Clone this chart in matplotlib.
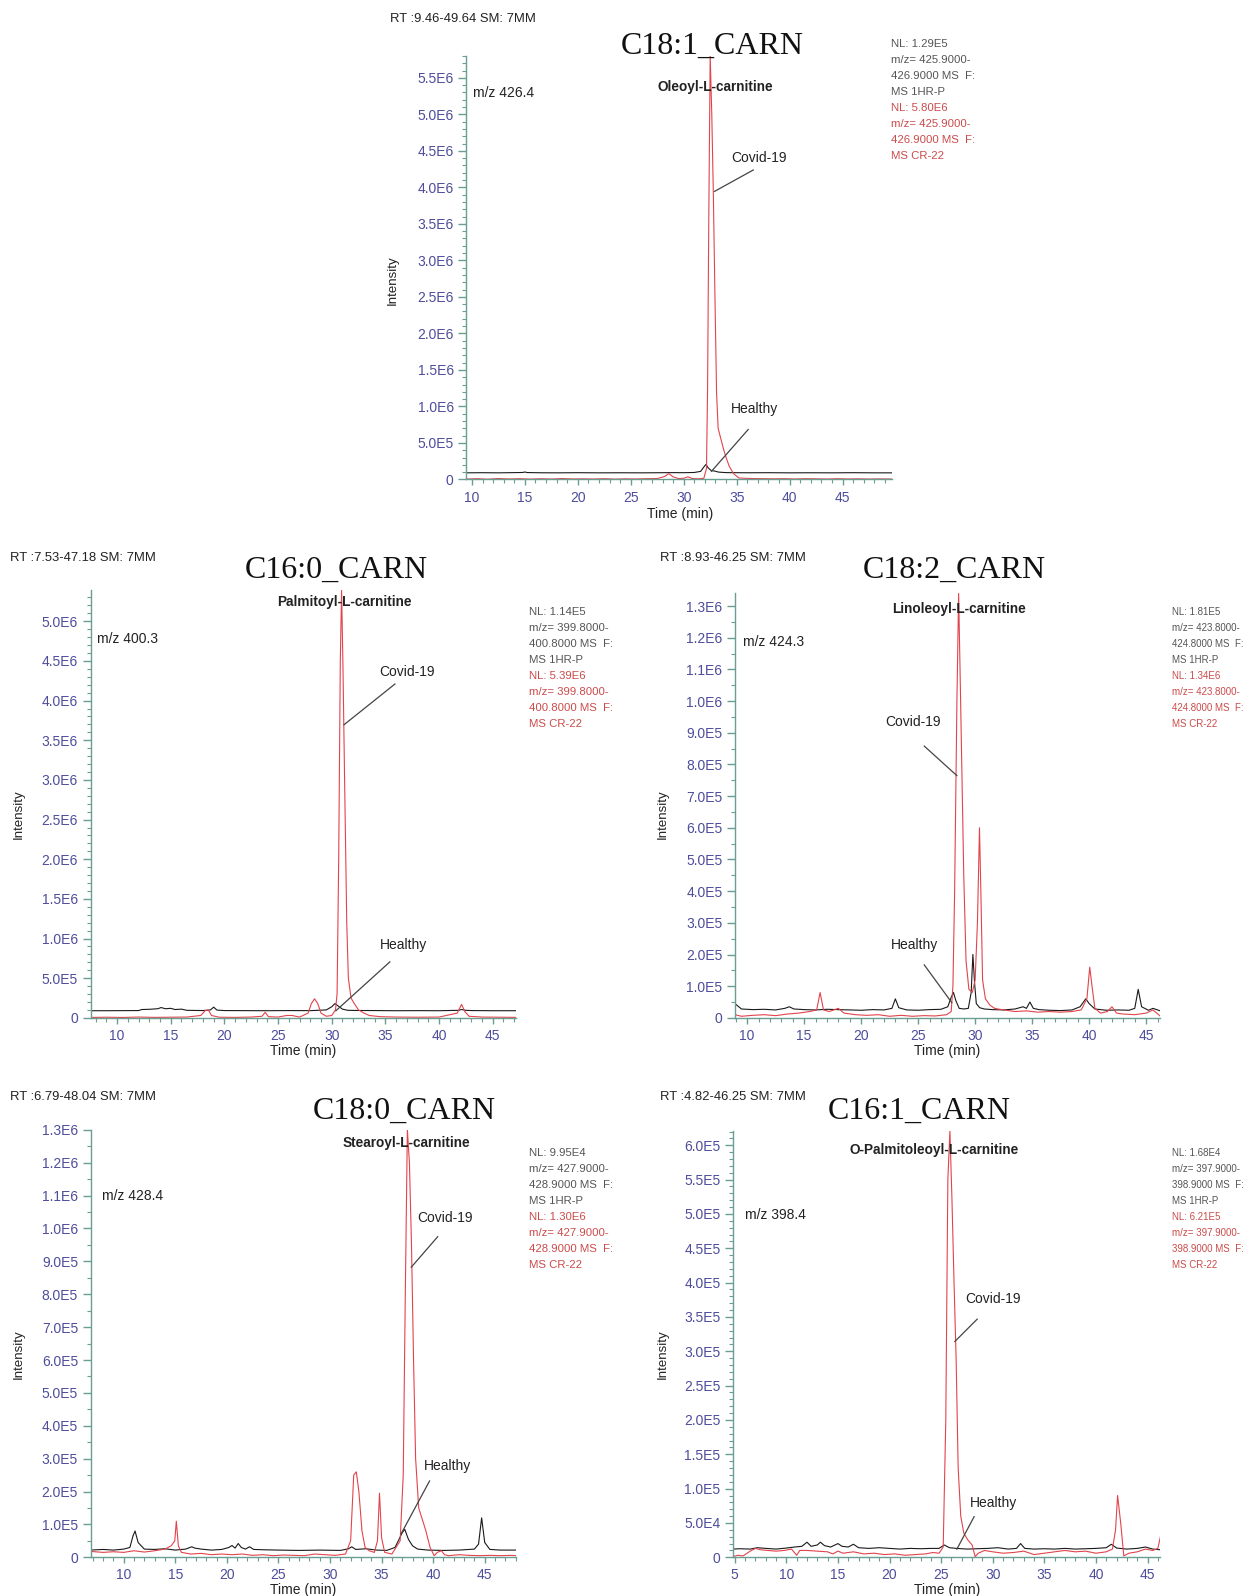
import numpy as np
import matplotlib.pyplot as plt
from matplotlib.lines import Line2D
from matplotlib.ticker import MultipleLocator, FuncFormatter

plt.rcParams['font.family'] = ['Liberation Sans', 'DejaVu Sans']

# ---------------- data (intensity in units of the scale noted) ----------------
# C18:1_CARN  Oleoyl-L-carnitine  (x1e5)
c181_h_t = [9.46, 11, 12.5, 14, 14.8, 15.0, 15.2, 16.5, 18, 20, 22, 24, 26, 28, 29, 30, 31, 31.6,
            31.9, 32.1, 32.3, 32.6, 32.9, 33.3, 34, 36, 38, 40, 42, 44, 46, 48, 49.64]
c181_h_v = [0.9, 0.92, 0.9, 0.93, 0.95, 1.02, 0.94, 0.91, 0.9, 0.92, 0.9, 0.91, 0.9, 0.92, 0.93, 0.92,
            0.95, 1.1, 1.7, 2.05, 1.6, 1.2, 1.15, 1.0, 0.93, 0.91, 0.92, 0.9, 0.91, 0.9, 0.92, 0.9, 0.9]
c181_c_t = [9.46, 10.5, 11.5, 12.5, 13.5, 14.5, 15.5, 16.5, 17.5, 18.5, 19.5, 20.5, 21.5, 22.5, 23.5,
            24.5, 25.5, 26.5, 27.5, 28.2, 28.6, 29.0, 29.5, 30.0, 30.4, 30.8, 31.4, 31.9, 32.15, 32.25,
            32.38, 32.5, 32.65, 32.8, 32.95, 33.1, 33.25, 33.5, 33.75, 34.0, 34.3, 34.7, 35.2, 35.8,
            36.5, 37.5, 38.5, 39.5, 40.5, 41.5, 42.5, 43.5, 44.5, 45.5, 46.5, 47.5, 48.5, 49.64]
c181_c_v = [0.05, 0.1, 0.03, 0.12, 0.06, 0.1, 0.04, 0.09, 0.05, 0.12, 0.06, 0.08, 0.05, 0.1, 0.04,
            0.08, 0.06, 0.1, 0.12, 0.4, 0.8, 0.35, 0.12, 0.15, 0.35, 0.12, 0.08, 0.15, 1.5, 12,
            38, 58.0, 50, 39, 25, 12, 7, 5.6, 4.2, 3.0, 1.8, 0.8, 0.2, 0.15,
            0.12, 0.1, 0.08, 0.1, 0.06, 0.1, 0.08, 0.05, 0.1, 0.06, 0.08, 0.05, 0.07, 0.05]

# C16:0_CARN  Palmitoyl-L-carnitine  (x1e5)
c160_h_t = [7.53, 9, 10.5, 12, 12.3, 13, 13.8, 14.1, 14.5, 15, 15.4, 16, 16.5, 18, 18.7, 19.0, 19.3,
            20, 22, 24, 26, 28, 29.5, 30.0, 30.3, 30.6, 31.0, 31.5, 32.5, 34, 36, 38, 40, 41.8, 42.1,
            42.5, 43, 45, 47.18]
c160_h_v = [0.9, 0.9, 0.91, 0.92, 1.05, 1.08, 1.15, 1.3, 1.15, 1.2, 1.05, 1.1, 0.95, 0.92, 1.0, 1.35,
            0.98, 0.92, 0.91, 0.9, 0.92, 0.91, 1.0, 1.4, 1.8, 1.5, 1.1, 0.95, 0.93, 0.92, 0.9, 0.91,
            0.9, 0.95, 1.05, 0.95, 0.92, 0.9, 0.9]
c160_c_t = [7.53, 9, 10.5, 12, 13.5, 15, 16.5, 17.8, 18.2, 18.5, 18.8, 19.5, 21, 22.5, 23.5, 23.8, 24.1,
            25, 25.8, 26.3, 27, 27.8, 28.1, 28.4, 28.7, 29.0, 29.5, 30.0, 30.35, 30.5, 30.65, 30.8,
            30.92, 31.05, 31.2, 31.4, 31.55, 31.8, 32.1, 32.5, 33.0, 33.5, 34.5, 36, 38, 40, 41.7,
            42.1, 42.4, 42.8, 44, 45.5, 47.18]
c160_c_v = [0.05, 0.08, 0.05, 0.1, 0.06, 0.08, 0.1, 0.3, 0.9, 1.0, 0.3, 0.08, 0.06, 0.1, 0.2, 0.7, 0.15,
            0.1, 0.3, 0.3, 0.1, 0.6, 1.8, 2.4, 1.8, 0.6, 0.2, 0.3, 1.0, 3.0, 20, 45,
            53.9, 44, 30, 12, 5, 2.5, 1.8, 1.0, 0.6, 0.3, 0.15, 0.1, 0.08, 0.1, 0.6,
            1.7, 0.8, 0.2, 0.1, 0.08, 0.06]

# C18:2_CARN  Linoleoyl-L-carnitine  (x1e5)
c182_h_t = [8.93, 9.5, 10.5, 11.5, 12.5, 13.3, 13.7, 14.1, 15, 16, 17, 18, 19, 20, 21, 22, 22.7, 23.0,
            23.3, 24, 25, 26, 27, 27.6, 27.9, 28.1, 28.3, 28.6, 29, 29.4, 29.65, 29.8, 29.95, 30.1,
            30.4, 30.8, 31.5, 32.5, 33.5, 34.2, 34.5, 34.8, 35.1, 35.6, 36.5, 37.5, 38.5, 39.2, 39.7,
            40.0, 40.5, 41.5, 42.5, 43.5, 44.0, 44.3, 44.6, 45.2, 45.6, 46.25]
c182_h_v = [0.45, 0.28, 0.26, 0.27, 0.25, 0.3, 0.35, 0.28, 0.26, 0.25, 0.27, 0.26, 0.25, 0.24, 0.26,
            0.25, 0.3, 0.6, 0.32, 0.25, 0.24, 0.26, 0.27, 0.35, 0.65, 0.8, 0.55, 0.3, 0.28, 0.3, 0.8,
            2.0, 1.1, 0.45, 0.32, 0.28, 0.26, 0.25, 0.28, 0.35, 0.3, 0.5, 0.3, 0.26, 0.24, 0.23, 0.25,
            0.35, 0.6, 0.45, 0.28, 0.24, 0.25, 0.24, 0.3, 0.9, 0.35, 0.24, 0.3, 0.22]
c182_c_t = [8.93, 9.5, 10.5, 11.5, 12.5, 13.5, 14.5, 15.5, 16.1, 16.4, 16.7, 17.2, 18, 18.5, 19.5, 20.5,
            21.5, 22.5, 23.5, 24.5, 25.5, 26.5, 27.5, 27.9, 28.05, 28.2, 28.4, 28.55, 28.7, 28.85,
            29.0, 29.2, 29.45, 29.75, 30.0, 30.2, 30.38, 30.5, 30.65, 30.9, 31.3, 31.7, 32.5, 33.5,
            34.5, 35.5, 36.5, 37.5, 38.5, 39.3, 39.8, 40.05, 40.25, 40.5, 41.0, 41.6, 42.0, 42.4,
            43.0, 44.0, 45.0, 45.6, 46.25]
c182_c_v = [0.1, 0.05, 0.08, 0.1, 0.07, 0.12, 0.15, 0.2, 0.25, 0.8, 0.25, 0.2, 0.3, 0.15, 0.1, 0.08,
            0.1, 0.05, 0.08, 0.05, 0.07, 0.06, 0.1, 0.2, 1.0, 4.0, 10.0, 13.4, 10.5, 7.5,
            4.5, 1.8, 0.9, 0.8, 1.2, 3.0, 6.0, 4.0, 1.2, 0.6, 0.4, 0.3, 0.25, 0.2,
            0.22, 0.18, 0.2, 0.18, 0.2, 0.25, 0.6, 1.6, 1.0, 0.3, 0.15, 0.2, 0.35, 0.15,
            0.12, 0.1, 0.15, 0.25, 0.05]

# C18:0_CARN  Stearoyl-L-carnitine  (x1e5)
c180_h_t = [6.79, 8, 9, 10, 10.6, 10.9, 11.1, 11.4, 12, 13, 14, 15, 16, 16.6, 16.9, 17.5, 18.5, 19.5,
            20.2, 20.5, 20.8, 21.1, 21.4, 21.8, 22.2, 22.6, 23.5, 25, 27, 29, 31, 31.8, 32.1, 32.5,
            33.5, 34, 34.5, 35.5, 36.3, 36.7, 37.0, 37.25, 37.6, 38.0, 38.5, 39.5, 41, 42.5, 44.0,
            44.4, 44.7, 45.0, 45.5, 46.5, 48.04]
c180_h_v = [0.22, 0.24, 0.22, 0.25, 0.3, 0.65, 0.8, 0.45, 0.25, 0.24, 0.26, 0.22, 0.25, 0.32, 0.28,
            0.25, 0.22, 0.24, 0.3, 0.36, 0.28, 0.42, 0.3, 0.25, 0.32, 0.24, 0.23, 0.22, 0.21, 0.22,
            0.21, 0.26, 0.32, 0.24, 0.26, 0.24, 0.22, 0.21, 0.3, 0.55, 0.75, 0.85, 0.55, 0.35, 0.25,
            0.22, 0.21, 0.22, 0.25, 0.4, 1.2, 0.45, 0.24, 0.22, 0.22]
c180_c_t = [6.79, 8, 9, 10, 11, 12, 13, 14, 14.6, 14.95, 15.1, 15.3, 15.6, 16.5, 17.5, 18.5, 19.5,
            20.5, 21.5, 22.5, 23.5, 24.5, 25.5, 26.5, 27.5, 28.5, 29.5, 30.5, 31.5, 32.0, 32.3,
            32.55, 32.8, 33.1, 33.4, 33.8, 34.3, 34.6, 34.8, 35.0, 35.3, 36.0, 36.8, 37.1, 37.3,
            37.5, 37.7, 37.9, 38.1, 38.3, 38.6, 38.9, 39.3, 39.7, 40.1, 40.4, 40.8, 41.1, 41.5,
            42.5, 43.5, 44.5, 45.5, 46.5, 47.5, 48.04]
c180_c_v = [0.18, 0.15, 0.17, 0.15, 0.2, 0.16, 0.2, 0.25, 0.35, 0.5, 1.1, 0.35, 0.15, 0.1, 0.12, 0.08,
            0.1, 0.08, 0.1, 0.06, 0.08, 0.05, 0.07, 0.06, 0.05, 0.1, 0.08, 0.06, 0.1, 0.5, 2.5,
            2.6, 2.0, 0.8, 0.3, 0.2, 0.15, 0.5, 1.95, 0.6, 0.15, 0.1, 0.5, 2.5, 8,
            13.0, 12, 9.5, 6.0, 3.0, 1.5, 1.2, 0.8, 0.3, 0.05, 0.15, 0.2, 0.08, 0.05,
            0.08, 0.06, 0.05, 0.06, 0.05, 0.06, 0.05]

# C16:1_CARN  O-Palmitoleoyl-L-carnitine  (x1e4)
c161_h_t = [4.82, 5.5, 6.5, 7.2, 8, 9, 10, 10.8, 11.5, 12.0, 12.4, 13, 13.3, 13.7, 14.3, 15.0, 15.4,
            16, 16.5, 17, 18, 19, 20, 21, 22, 23, 24, 24.8, 25.3, 25.8, 26.5, 27.5, 28.5, 29.5,
            30.5, 31.5, 32.3, 32.7, 33.1, 34, 35, 36, 37, 38, 39, 40, 41, 41.5, 42, 43, 44, 44.8,
            45.5, 46.25]
c161_h_v = [1.2, 1.25, 1.2, 1.4, 1.3, 1.2, 1.35, 1.5, 1.6, 2.2, 1.6, 1.8, 2.2, 1.7, 1.5, 2.0, 1.6,
            1.5, 1.9, 1.4, 1.3, 1.4, 1.3, 1.2, 1.3, 1.25, 1.3, 1.3, 1.8, 1.4, 1.3, 1.2, 1.25, 1.3,
            1.4, 1.2, 1.3, 2.0, 1.3, 1.2, 1.25, 1.2, 1.3, 1.2, 1.25, 1.3, 1.4, 1.9, 1.35, 1.2, 1.3,
            1.5, 1.2, 1.1]
c161_c_t = [4.82, 5.3, 5.8, 6.5, 7.0, 7.5, 8.2, 9, 9.8, 10.5, 11.0, 11.3, 12, 13, 14, 14.5, 15, 15.5,
            16.5, 17.5, 18.5, 19.5, 20.5, 21.5, 22.5, 23.5, 24.2, 24.8, 25.2, 25.45, 25.65, 25.85,
            26.05, 26.25, 26.45, 26.65, 26.9, 27.2, 27.6, 28.0, 28.3, 28.6, 29.2, 30, 31, 32, 33,
            34, 35, 36, 37, 38, 39, 40, 41, 41.6, 41.9, 42.1, 42.4, 42.7, 43.2, 44, 44.8, 45.5,
            46.0, 46.25]
c161_c_v = [0.1, 0.3, 0.2, 0.9, 1.3, 1.1, 1.0, 0.9, 1.0, 1.2, 0.3, 1.0, 1.0, 0.9, 0.8, 0.5, 0.9, 0.6,
            0.8, 0.5, 0.6, 0.4, 0.5, 0.3, 0.4, 0.5, 0.7, 0.6, 1.5, 20, 55, 62.1,
            52, 40, 29, 13, 6, 3.5, 2.5, 1.8, 0.1, 0.6, 1.0, 0.8, 0.6, 0.7, 0.9,
            0.4, 0.6, 0.8, 1.0, 0.8, 0.9, 0.6, 0.8, 1.2, 4.0, 9.0, 5.0, 0.2, 0.6, 0.8, 1.2, 1.0,
            1.3, 3.0]

titles = ['C18:1_CARN', 'C16:0_CARN', 'C18:2_CARN', 'C18:0_CARN', 'C16:1_CARN']
names = ['Oleoyl-L-carnitine', 'Palmitoyl-L-carnitine', 'Linoleoyl-L-carnitine',
         'Stearoyl-L-carnitine', 'O-Palmitoleoyl-L-carnitine']
rt_ranges = [(9.46, 49.64), (7.53, 47.18), (8.93, 46.25), (6.79, 48.04), (4.82, 46.25)]
mz_labels = ['m/z 426.4', 'm/z 400.3', 'm/z 424.3', 'm/z 428.4', 'm/z 398.4']
nl_healthy = [['NL: 1.29E5', 'm/z= 425.9000-', '426.9000 MS  F:', 'MS 1HR-P'],
              ['NL: 1.14E5', 'm/z= 399.8000-', '400.8000 MS  F:', 'MS 1HR-P'],
              ['NL: 1.81E5', 'm/z= 423.8000-', '424.8000 MS  F:', 'MS 1HR-P'],
              ['NL: 9.95E4', 'm/z= 427.9000-', '428.9000 MS  F:', 'MS 1HR-P'],
              ['NL: 1.68E4', 'm/z= 397.9000-', '398.9000 MS  F:', 'MS 1HR-P']]
nl_covid = [['NL: 5.80E6', 'm/z= 425.9000-', '426.9000 MS  F:', 'MS CR-22'],
            ['NL: 5.39E6', 'm/z= 399.8000-', '400.8000 MS  F:', 'MS CR-22'],
            ['NL: 1.34E6', 'm/z= 423.8000-', '424.8000 MS  F:', 'MS CR-22'],
            ['NL: 1.30E6', 'm/z= 427.9000-', '428.9000 MS  F:', 'MS CR-22'],
            ['NL: 6.21E5', 'm/z= 397.9000-', '398.9000 MS  F:', 'MS CR-22']]
y_max = [5.80e6, 5.39e6, 1.34e6, 1.30e6, 6.21e5]
units = [1e5, 1e5, 1e5, 1e5, 1e4]
healthy_t = [c181_h_t, c160_h_t, c182_h_t, c180_h_t, c161_h_t]
healthy_v = [c181_h_v, c160_h_v, c182_h_v, c180_h_v, c161_h_v]
covid_t = [c181_c_t, c160_c_t, c182_c_t, c180_c_t, c161_c_t]
covid_v = [c181_c_v, c160_c_v, c182_c_v, c180_c_v, c161_c_v]

# ---------------- layout (pixel positions on a 1228x1568 canvas) ----------------
W, H = 1228.0, 1568.0
layout = [
    dict(box=(458, 55, 876, 471), rt=(383, 19), title=(700, 45), name=(703, 85), mz=(465, 91),
         nl=(875, 43), nlsize=8.2, cov=(718, 155), cov_l=((740, 167), (702, 188)), hea=(718, 402),
         hea_l=((735, 422), (699, 463)), ylab=(386, 275), xlab=(668, 505), major=5e5, minor=1e5),
    dict(box=(89, 580, 507, 1000), rt=(10, 548), title=(330, 560), name=(338, 591), mz=(95, 628),
         nl=(520, 601), nlsize=8.2, cov=(373, 660), cov_l=((388, 672), (338, 712)), hea=(373, 928),
         hea_l=((383, 945), (330, 993)), ylab=(18, 800), xlab=(298, 1033), major=5e5, minor=1e5),
    dict(box=(722, 583, 1140, 1000), rt=(648, 548), title=(938, 560), name=(942, 598), mz=(730, 631),
         nl=(1151, 601), nlsize=7.0, cov=(870, 709), cov_l=((908, 733), (940, 762)), hea=(875, 928),
         hea_l=((908, 948), (935, 985)), ylab=(651, 800), xlab=(930, 1033), major=1e5, minor=5e4),
    dict(box=(89, 1110, 507, 1530), rt=(10, 1078), title=(397, 1092), name=(399, 1123), mz=(100, 1175),
         nl=(520, 1133), nlsize=8.2, cov=(410, 1197), cov_l=((430, 1215), (404, 1245)), hea=(416, 1440),
         hea_l=((422, 1455), (394, 1507)), ylab=(18, 1330), xlab=(298, 1562), major=1e5, minor=5e4),
    dict(box=(720, 1111, 1140, 1530), rt=(648, 1078), title=(903, 1092), name=(918, 1130), mz=(732, 1194),
         nl=(1151, 1133), nlsize=7.0, cov=(948, 1276), cov_l=((960, 1296), (938, 1318)), hea=(953, 1477),
         hea_l=((957, 1490), (940, 1522)), ylab=(651, 1330), xlab=(930, 1562), major=5e4, minor=1e4),
]

AXIS_C = '#6a9e92'
TICK_C = '#4d4d9c'
RED = '#e2444c'
GREY = '#555555'


def fx(x):
    return x / W


def fy(y):
    return 1 - y / H


def sci(v, pos):
    if v < -1e-9:
        return ''
    if abs(v) < 1e-9:
        return '0'
    e = int(np.floor(np.log10(v) + 1e-9))
    return '%.1fE%d' % (v / 10 ** e, e)


fig = plt.figure(figsize=(12.5, 15.96), dpi=100)

for i in range(5):
    L = layout[i]
    x0, y0, x1, y1 = L['box']
    ax = fig.add_axes([fx(x0), fy(y1), (x1 - x0) / W, (y1 - y0) / H])
    u = units[i]
    ax.plot(healthy_t[i], np.array(healthy_v[i]) * u, color='#1a1a1a', lw=0.8)
    ax.plot(covid_t[i], np.array(covid_v[i]) * u, color=RED, lw=0.8)
    ax.set_xlim(*rt_ranges[i])
    ax.set_ylim(0, y_max[i])

    for s in ['top', 'right']:
        ax.spines[s].set_visible(False)
    for s in ['left', 'bottom']:
        ax.spines[s].set_color(AXIS_C)
        ax.spines[s].set_linewidth(1.0)
    ax.xaxis.set_major_locator(MultipleLocator(5))
    ax.xaxis.set_minor_locator(MultipleLocator(1))
    ax.yaxis.set_major_locator(MultipleLocator(L['major']))
    ax.yaxis.set_minor_locator(MultipleLocator(L['minor']))
    ax.yaxis.set_major_formatter(FuncFormatter(sci))
    ax.tick_params(axis='both', which='both', colors=AXIS_C, labelcolor=TICK_C, labelsize=10)
    ax.tick_params(axis='y', which='major', length=6, width=1, pad=3)
    ax.tick_params(axis='y', which='minor', length=3, width=0.8)
    ax.tick_params(axis='x', which='major', length=4, width=1, pad=4)
    ax.tick_params(axis='x', which='minor', length=3, width=0.8)
    ax.patch.set_visible(False)

    # texts
    fig.text(fx(L['rt'][0]), fy(L['rt'][1]),
             'RT :%.2f-%.2f SM: 7MM' % rt_ranges[i], fontsize=9.4, va='center', ha='left', color='#222222')
    fig.text(fx(L['title'][0]), fy(L['title'][1]), titles[i], fontsize=23, va='center', ha='center',
             family='Liberation Serif', color='#111111')
    fig.text(fx(L['name'][0]), fy(L['name'][1]), names[i], fontsize=9.8, weight='bold', va='center',
             ha='center', color='#222222')
    fig.text(fx(L['mz'][0]), fy(L['mz'][1]), mz_labels[i], fontsize=10, va='center', ha='left',
             color='#222222')
    nx, ny = L['nl']
    for k, line in enumerate(nl_healthy[i] + nl_covid[i]):
        fig.text(fx(nx), fy(ny + k * 15.7), line, fontsize=L['nlsize'], va='center', ha='left',
                 color=GREY if k < 4 else '#cc4a4a')
    fig.text(fx(L['cov'][0]), fy(L['cov'][1]), 'Covid-19', fontsize=10, va='center', ha='left',
             color='#222222')
    fig.text(fx(L['hea'][0]), fy(L['hea'][1]), 'Healthy', fontsize=10, va='center', ha='left',
             color='#222222')
    for (p, q) in [L['cov_l'], L['hea_l']]:
        fig.add_artist(Line2D([fx(p[0]), fx(q[0])], [fy(p[1]), fy(q[1])], color='#444444', lw=0.9,
                              transform=fig.transFigure))
    fig.text(fx(L['ylab'][0]), fy(L['ylab'][1]), 'Intensity', fontsize=9.5, rotation=90, va='center',
             ha='center', color='#222222')
    fig.text(fx(L['xlab'][0]), fy(L['xlab'][1]), 'Time (min)', fontsize=10, va='center', ha='center',
             color='#222222')

fig.savefig('out.png', dpi=100)
